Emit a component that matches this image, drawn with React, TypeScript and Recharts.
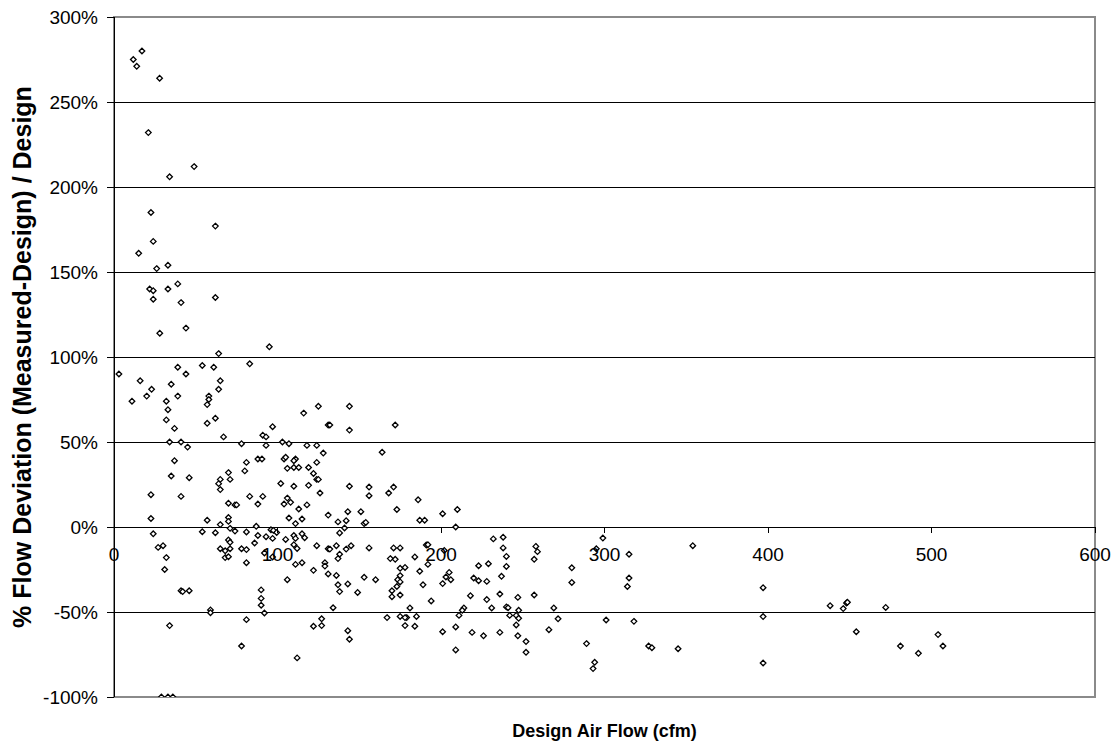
import React from "react";
import {
  ScatterChart,
  Scatter,
  XAxis,
  YAxis,
  ReferenceLine,
  ReferenceArea,
} from "recharts";

// ---- data (design air flow in cfm, % deviation) ----
const designAirFlow: number[] = [
  17.1, 11.8, 13.9, 27.9, 21, 49, 34, 22.6, 62, 24,
  15.1, 26.1, 33, 39, 21.8, 24, 33, 24, 41, 62, 44, 28, 95, 64, 3, 16, 39, 54, 61, 83,
  44, 35, 23, 20, 11, 32, 39, 33, 32, 37, 65, 64, 58, 58, 57, 62, 57, 67, 91, 93, 97, 116, 125, 131,
  34, 41, 45, 37, 35, 46, 22.6, 41, 22.6, 24, 27, 30, 32, 31, 41, 42, 46, 34, 29, 33, 36,
  78, 81, 80, 70, 71, 65, 64, 65, 88, 90.5, 93, 103, 107, 118, 124, 128, 104, 105, 111, 110,
  106, 110, 113, 119, 124, 122, 124, 125, 126, 102, 110, 119, 83, 91, 70, 74, 75, 88, 106, 108,
  104, 118, 113, 131, 107, 115, 111, 57, 70, 70, 65, 54, 62, 71, 74, 81, 87, 88, 93, 97, 96, 97.5,
  99.5, 105, 110, 111, 116.6, 115, 70, 71, 65, 71, 68, 68, 70, 78, 81, 86, 81, 92, 97, 110, 112,
  124, 131, 111, 115, 122, 129, 129, 131, 106, 90, 90, 90, 92, 59, 59, 81, 78, 112, 122, 127, 127,
  144, 132, 144, 172, 164, 144, 156, 156, 168, 171, 186, 137, 142, 143, 151, 153, 154, 173, 187,
  190, 201, 210, 141, 209,
  138, 132, 136, 142, 145, 138, 137, 136, 137, 138, 143, 149, 134, 143, 144, 156, 153, 160, 171,
  175, 169, 172, 175, 178, 175, 173.5, 175, 173, 170, 170, 175, 181, 175, 179, 178, 185, 167, 178,
  184, 184, 187, 189, 191, 192, 192, 202, 205, 203, 206, 201, 194, 201, 209, 209, 214, 213, 211,
  218, 220, 223, 223, 228, 229, 219, 226, 228, 231, 232, 238, 238, 240, 240, 237, 236, 240, 241,
  242, 236, 247, 247.5, 246, 247.5, 246, 247, 252, 252, 258, 259, 257, 257, 266, 269, 271.6,
  280, 280, 289, 294, 293, 295, 299, 301, 315, 315, 314, 318, 327, 329, 345, 354, 397, 397, 397,
  438, 446, 448, 448.6, 454, 472, 481, 492, 504, 507,
];

const flowDeviation: number[] = [
  280, 275, 271, 264, 232, 212, 206, 185, 177, 168,
  161, 152, 154, 143, 140, 139, 140, 134, 132, 135, 117, 114, 106, 102, 90, 86, 94, 95, 94, 96,
  90, 84, 81, 77, 74, 74, 77, 69, 63, 58, 86, 81, 77, 75, 72, 64, 61, 53, 54, 53, 59, 67, 71, 60,
  50, 50, 47, 39, 30, 29, 19, 18, 5, -4, -12, -11, -18, -25, -37.5, -38, -37.5, -58, -100, -100, -100,
  49, 38, 33, 32, 28, 28, 25.5, 22, 40, 40, 48, 50, 49, 48, 48, 43.5, 40, 41, 40, 39,
  34.5, 35, 35, 35, 38, 31.5, 28, 28, 20, 25.6, 24, 24.5, 18, 18, 14, 13, 13, 13.5, 17, 14.5,
  13.5, 13, 10.6, 7, 5.3, 4.7, 2, 4, 5.6, 3.3, 1.4, -2.8, -3.4, -0.8, -2.4, -2.9, 0.4, -5, -5.7, -6.7, -1.6, -2,
  -3.2, -7.3, -5, -6.7, -6.3, -4, -7.6, -9, -12.8, -12.8, -14, -18, -17.5, -12.8, -13.3, -9.4, -21, -15.3, -17.6, -10.4, -12.6,
  -11, -12.8, -22, -21, -25.5, -21, -23, -27.6, -31, -37, -42, -46, -50.6, -48.8, -50.4, -54.5, -70, -77, -58.4, -58, -54,
  71, 60, 57, 60, 44, 24, 23.5, 18.4, 20, 23.5, 16, 3, 3.7, 9, 9, 2, 2.7, 10.3, 4,
  4, 7.8, 10.3, -0.6, 0,
  -3.5, -13, -11, -13, -11, -16, -18.6, -28.5, -34, -38, -33.5, -38.5, -47.5, -61, -66, -12.3, -29.6, -31, -12.3,
  -12.3, -18.6, -19, -24.3, -23.8, -28.6, -31, -32.3, -35, -37.5, -41, -40, -47.6, -52.6, -53.3, -53.3, -52.6, -53.3, -58,
  -58.4, -17.6, -26, -34, -10.6, -10.4, -22, -13.8, -26.7, -29.4, -31, -33.3, -43.5, -61.6, -58.8, -72.3, -47.6, -49, -52,
  -40.4, -30, -31.6, -22.8, -32, -21.6, -62, -64, -42.7, -47.6, -7, -6, -12.3, -17.3, -23.2, -29, -39.4, -47, -47.5,
  -52, -62, -41.4, -49, -52, -53.7, -57.6, -64, -67.4, -73.7, -11.4, -14.5, -19, -40, -60.4, -47.6, -54,
  -24, -32.6, -68.6, -79.6, -83.3, -12.8, -6.5, -54.7, -16, -30, -35, -55.5, -70, -71, -71.6, -11, -35.7, -52.7, -80,
  -46.3, -48, -44.7, -44.3, -61.6, -47.3, -70, -74.3, -63.3, -70,
];

const xTicks: number[] = [0, 100, 200, 300, 400, 500, 600];
const yTicks: number[] = [-100, -50, 0, 50, 100, 150, 200, 250, 300];
const gridValues: number[] = [-50, 0, 50, 100, 150, 200, 250];

const xTitle = "Design Air Flow (cfm)";
const yTitle = "% Flow Deviation (Measured-Design) / Design";

// ---- layout ----
const W = 1114;
const H = 742;
const M_TOP = 17;
const M_RIGHT = 19;
const X_AXIS_H = 45;
const Y_AXIS_W = 114;
const X_MIN = 0;
const X_MAX = 600;
const Y_MIN = -100;
const Y_MAX = 300;
const PLOT_H = H - M_TOP - X_AXIS_H;
const ZERO_Y = M_TOP + (PLOT_H * (Y_MAX - 0)) / (Y_MAX - Y_MIN);

const FONT = "'Liberation Sans', Arial, Helvetica, sans-serif";

const data = designAirFlow.map((x, i) => ({ x, y: flowDeviation[i] }));

const Diamond = (props: any) => {
  const { cx, cy } = props;
  if (cx == null || cy == null) return null;
  const r = 2.8;
  return (
    <polygon
      points={`${cx},${cy - r} ${cx + r},${cy} ${cx},${cy + r} ${cx - r},${cy}`}
      fill="#ffffff"
      stroke="#000000"
      strokeWidth={1.3}
    />
  );
};

const XTick = (props: any) => {
  const { x, payload } = props;
  return (
    <g>
      <line
        x1={x}
        x2={x}
        y1={ZERO_Y}
        y2={ZERO_Y + 6}
        stroke="#000"
        strokeWidth={1}
        shapeRendering="crispEdges"
      />
      <text
        x={x}
        y={ZERO_Y + 34}
        textAnchor="middle"
        fontFamily={FONT}
        fontSize={19}
        fill="#000"
      >
        {payload.value}
      </text>
    </g>
  );
};

const YTitle = (props: any) => {
  const { viewBox } = props;
  const cx = viewBox.x + 22;
  const cy = viewBox.y + viewBox.height / 2;
  return (
    <text
      x={cx}
      y={cy}
      transform={`rotate(-90, ${cx}, ${cy})`}
      textAnchor="middle"
      dominantBaseline="central"
      fontFamily={FONT}
      fontWeight="bold"
      fontSize={25}
      fill="#000"
    >
      {yTitle}
    </text>
  );
};

const XTitle = (props: any) => {
  const { viewBox } = props;
  const cx = viewBox.x + viewBox.width / 2;
  const cy = viewBox.y + 34;
  return (
    <text
      x={cx}
      y={cy}
      textAnchor="middle"
      dominantBaseline="central"
      fontFamily={FONT}
      fontWeight="bold"
      fontSize={18}
      fill="#000"
    >
      {xTitle}
    </text>
  );
};

export default function App() {
  return (
    <div style={{ position: "absolute", left: 0, top: 0, width: W, height: H, background: "#fff" }}>
      <ScatterChart
        width={W}
        height={H}
        margin={{ top: M_TOP, right: M_RIGHT, bottom: 0, left: 0 }}
      >
        {gridValues.map((v) => (
          <ReferenceLine
            key={v}
            y={v}
            stroke="#000"
            strokeWidth={1}
            shapeRendering="crispEdges"
          />
        ))}
        <ReferenceArea
          x1={X_MIN}
          x2={X_MAX}
          y1={Y_MIN}
          y2={Y_MAX}
          fill="none"
          fillOpacity={0}
          stroke="#8a8a8a"
          strokeWidth={2}
        />
        <XAxis
          type="number"
          dataKey="x"
          domain={[X_MIN, X_MAX]}
          ticks={xTicks}
          height={X_AXIS_H}
          axisLine={false}
          tickLine={false}
          tick={<XTick />}
          interval={0}
          allowDataOverflow
          label={<XTitle />}
        />
        <YAxis
          type="number"
          dataKey="y"
          domain={[Y_MIN, Y_MAX]}
          ticks={yTicks}
          width={Y_AXIS_W}
          interval={0}
          allowDataOverflow
          tickFormatter={(v: number) => `${v}%`}
          tick={{ fill: "#000", fontSize: 19, fontFamily: FONT }}
          tickSize={7}
          tickMargin={9}
          axisLine={{ stroke: "#000", strokeWidth: 1, shapeRendering: "crispEdges" }}
          tickLine={{ stroke: "#000", strokeWidth: 1, shapeRendering: "crispEdges" }}
          label={<YTitle />}
        />
        <Scatter data={data} shape={<Diamond />} isAnimationActive={false} />
      </ScatterChart>
    </div>
  );
}
